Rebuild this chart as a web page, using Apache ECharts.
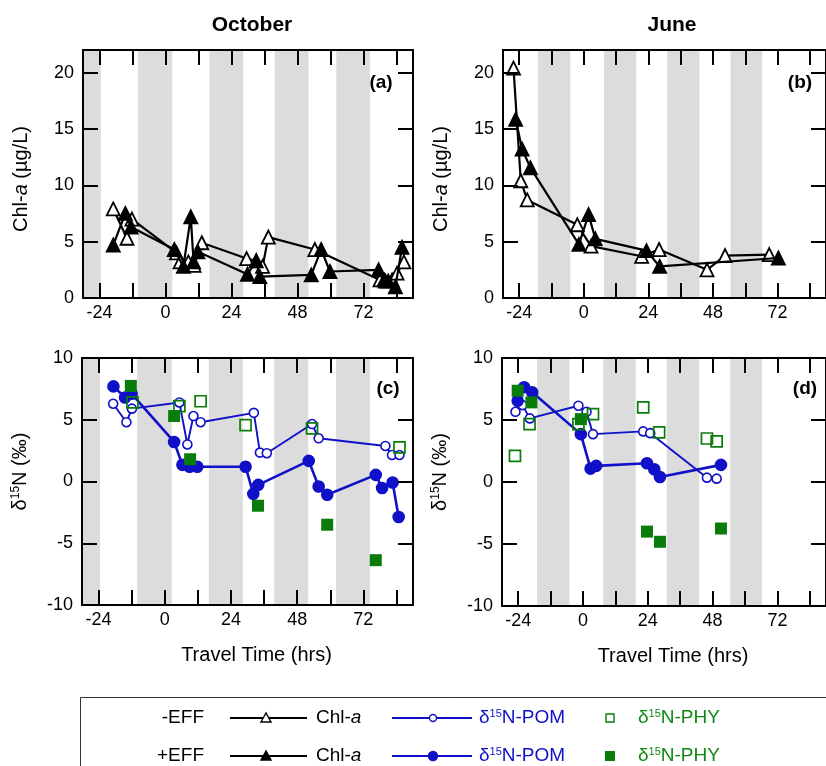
<!DOCTYPE html>
<html>
<head>
<meta charset="utf-8">
<script src="https://cdn.jsdelivr.net/npm/echarts@6/dist/echarts.min.js"></script>
<style>html,body{margin:0;padding:0;background:#fff}#c{width:826px;height:766px}</style>
</head>
<body>
<div id="c"></div>
<script>
// ---- tick / label values ----
const xTicks = [-24, -12, 0, 12, 24, 36, 48, 60, 72, 84];
const xLabels = [-24, 0, 24, 48, 72];
const chlTicks = [0, 5, 10, 15, 20];
const d15Ticks = [-10, -5, 0, 5, 10];

// ---- night (shaded) periods, hours ----
const octNight = [[-30, -23.5], [-10, 2.5], [16, 28.3], [39.7, 52], [62.1, 74.4]];
const junNight = [[-17, -5], [7.5, 19.5], [31, 43], [54.5, 66.3]];

// ---- October Chl-a (µg/L) ----
const octChlMinus = [[-19, 7.9], [-14, 5.3], [-12.2, 7.0], [4, 4.0], [5.3, 3.2], [8.3, 3.2], [10.4, 2.9], [13.2, 4.9], [29.5, 3.5], [33, 3.3], [35.3, 2.8], [37.4, 5.4], [54.3, 4.3], [78, 1.6], [80, 1.5], [82.4, 1.6], [84.2, 2.2], [86.7, 3.2]];
const octChlPlus = [[-19, 4.7], [-14.6, 7.5], [-12.5, 6.3], [3.2, 4.3], [6.5, 2.8], [9.2, 7.2], [10.2, 3.2], [11.8, 4.1], [29.8, 2.1], [33, 3.3], [34.3, 1.9], [53, 2.05], [56.6, 4.3], [59.8, 2.35], [77.5, 2.5], [79.5, 1.6], [81, 1.5], [83.6, 1.0], [86, 4.5]];

// ---- June Chl-a (µg/L) ----
const junChlMinus = [[-26.1, 20.4], [-23.4, 10.4], [-21, 8.7], [-2.4, 6.5], [2.7, 4.6], [21.5, 3.7], [28, 4.3], [45.8, 2.5], [52.5, 3.76], [68.9, 3.85]];
const junChlPlus = [[-25.3, 15.85], [-22.9, 13.2], [-19.8, 11.55], [-1.8, 4.75], [1.8, 7.4], [4.3, 5.25], [23.3, 4.2], [28.2, 2.8], [72.3, 3.55]];

// ---- October δ15N (‰) ----
const octPomMinus = [[-18.7, 6.3], [-13.9, 4.8], [-11.9, 5.9], [5.3, 6.4], [8.2, 3.0], [10.4, 5.3], [13, 4.8], [32.3, 5.56], [34.5, 2.34], [37, 2.29], [53.4, 4.65], [55.8, 3.5], [80, 2.88], [82.4, 2.15], [85.1, 2.15]];
const octPomPlus = [[-18.6, 7.7], [-14.4, 6.8], [-12, 7.1], [3.4, 3.2], [6.4, 1.35], [9, 1.2], [11.8, 1.2], [29.3, 1.2], [32.1, -1.0], [33.9, -0.27], [52.2, 1.67], [55.8, -0.4], [58.9, -1.07], [76.5, 0.54], [78.8, -0.53], [82.6, -0.08], [84.8, -2.87]];
const octPhyMinus = [[-11.7, 6.4], [5.3, 6.1], [13, 6.5], [29.3, 4.57], [53.4, 4.3], [85.1, 2.77]];
const octPhyPlus = [[-12.3, 7.74], [3.4, 5.3], [9.2, 1.8], [33.8, -1.96], [58.9, -3.5], [76.5, -6.37]];

// ---- June δ15N (‰) ----
const junPomMinus = [[-25, 5.66], [-22.4, 6.2], [-19.7, 5.13], [-1.7, 6.15], [1.3, 5.66], [3.7, 3.86], [22.3, 4.08], [24.9, 3.94], [45.9, 0.35], [49.5, 0.27]];
const junPomPlus = [[-24.2, 6.55], [-21.8, 7.64], [-18.8, 7.23], [-0.8, 3.86], [2.8, 1.08], [4.9, 1.3], [23.7, 1.51], [26.4, 1.03], [28.5, 0.4], [51.1, 1.38]];
const junPhyMinus = [[-25.2, 2.1], [-19.8, 4.67], [-1.7, 4.67], [3.7, 5.48], [22.3, 6.02], [28.2, 4.0], [45.9, 3.51], [49.5, 3.27]];
const junPhyPlus = [[-24.2, 7.36], [-19.1, 6.42], [-0.8, 5.07], [23.7, -4.0], [28.5, -4.82], [51.1, -3.75]];

// ---- styling ----
const FONT = '"Liberation Sans", Arial, Helvetica, sans-serif';
const BLUE = '#1010c8';
const GREEN = '#0a7c0a';
const GREEN_TXT = '#118811';
const BAND = '#dcdcdc';

const grids = [
  {left: 83, top: 50, width: 330, height: 248},
  {left: 503, top: 50, width: 330, height: 248},
  {left: 82, top: 358, width: 331, height: 247},
  {left: 502, top: 358, width: 331, height: 248}
];

const chlName = '{n|Chl-}{i|a}{n| (µg/L)}';
const d15Name = '{n|δ}{s|15}{n|N (‰)}';
const nameRich = {
  n: {fontSize: 20, fontFamily: FONT, color: '#000'},
  i: {fontSize: 20, fontFamily: FONT, fontStyle: 'italic', color: '#000'},
  s: {fontSize: 12, fontFamily: FONT, color: '#000', verticalAlign: 'top'}
};

const tickCommon = {inside: true, length: 15, lineStyle: {color: '#000', width: 2}};
const lineCommon = {show: true, onZero: false, lineStyle: {color: '#000', width: 2}};

const xAxes = [], yAxes = [];
grids.forEach((g, i) => {
  const bottomPanel = i >= 2;
  xAxes.push({
    gridIndex: i, type: 'value', min: -30, max: 90, position: 'bottom', z: 5,
    axisLine: lineCommon,
    axisTick: Object.assign({customValues: xTicks}, tickCommon),
    axisLabel: {customValues: xLabels, fontSize: 18, fontFamily: FONT, color: '#000', margin: 6},
    splitLine: {show: false},
    name: bottomPanel ? 'Travel Time (hrs)' : '',
    nameLocation: 'middle', nameGap: 40,
    nameTextStyle: {fontSize: 20, fontFamily: FONT, color: '#000', padding: [0, 0, 0, 18]}
  });
  xAxes.push({
    gridIndex: i, type: 'value', min: -30, max: 90, position: 'top', z: 5,
    axisLine: lineCommon,
    axisTick: Object.assign({customValues: xTicks}, tickCommon),
    axisLabel: {show: false},
    splitLine: {show: false}
  });
  const isChl = i < 2;
  const ticks = isChl ? chlTicks : d15Ticks;
  yAxes.push({
    gridIndex: i, type: 'value', min: isChl ? 0 : -10, max: isChl ? 22 : 10, position: 'left', z: 5,
    axisLine: lineCommon,
    axisTick: Object.assign({customValues: ticks}, tickCommon),
    axisLabel: {customValues: ticks, fontSize: 18, fontFamily: FONT, color: '#000', margin: 9},
    splitLine: {show: false},
    name: isChl ? chlName : d15Name,
    nameLocation: 'middle', nameGap: 52,
    nameTextStyle: {rich: nameRich, padding: isChl ? [0, 10, 0, 0] : [0, 0, 0, 20]}
  });
  yAxes.push({
    gridIndex: i, type: 'value', min: isChl ? 0 : -10, max: isChl ? 22 : 10, position: 'right', z: 5,
    axisLine: lineCommon,
    axisTick: Object.assign({customValues: ticks}, tickCommon),
    axisLabel: {show: false},
    splitLine: {show: false}
  });
});

function bands(list) {
  return {
    silent: true,
    itemStyle: {color: BAND},
    data: list.map(b => [{xAxis: b[0]}, {xAxis: b[1]}])
  };
}

function chlSeries(gi, data, filled, night) {
  const s = {
    type: 'line', xAxisIndex: gi * 2, yAxisIndex: gi * 2, data: data,
    symbol: 'triangle', symbolSize: 13,
    itemStyle: {color: filled ? '#000' : '#fff', borderColor: '#000', borderWidth: 1.8},
    lineStyle: {color: '#000', width: 2.2},
    z: filled ? 3 : 2
  };
  if (night) s.markArea = bands(night);
  return s;
}
function pomSeries(gi, data, filled, night) {
  const s = {
    type: 'line', xAxisIndex: gi * 2, yAxisIndex: gi * 2, data: data,
    symbol: 'circle', symbolSize: filled ? 11 : 9,
    itemStyle: {color: filled ? BLUE : '#fff', borderColor: BLUE, borderWidth: 1.6},
    lineStyle: {color: BLUE, width: filled ? 2.6 : 1.9},
    z: filled ? 3 : 2
  };
  if (night) s.markArea = bands(night);
  return s;
}
function phySeries(gi, data, filled) {
  return {
    type: 'scatter', xAxisIndex: gi * 2, yAxisIndex: gi * 2, data: data,
    symbol: 'rect', symbolSize: filled ? 12 : 11,
    itemStyle: {opacity: 1, color: filled ? GREEN : 'rgba(255,255,255,0)', borderColor: GREEN, borderWidth: filled ? 0 : 1.7},
    z: 4
  };
}

const series = [
  chlSeries(0, octChlMinus, false, octNight),
  chlSeries(0, octChlPlus, true),
  chlSeries(1, junChlMinus, false, junNight),
  chlSeries(1, junChlPlus, true),
  pomSeries(2, octPomMinus, false, octNight),
  pomSeries(2, octPomPlus, true),
  phySeries(2, octPhyMinus, false),
  phySeries(2, octPhyPlus, true),
  pomSeries(3, junPomMinus, false, junNight),
  pomSeries(3, junPomPlus, true),
  phySeries(3, junPhyMinus, false),
  phySeries(3, junPhyPlus, true)
];

// ---- titles, panel letters, legend (graphic) ----
const graphics = [];
function txt(x, y, text, opt) {
  graphics.push({type: 'text', x: x, y: y, z: 20, style: Object.assign({
    text: text, fill: '#000', fontSize: 20, fontFamily: FONT,
    align: 'center', verticalAlign: 'middle'}, opt || {})});
}
txt(252, 25, 'October', {fontWeight: 'bold', fontSize: 21});
txt(672, 25, 'June', {fontWeight: 'bold', fontSize: 21});
txt(381, 83, '(a)', {fontWeight: 'bold', fontSize: 19});
txt(800, 83, '(b)', {fontWeight: 'bold', fontSize: 19});
txt(388, 389, '(c)', {fontWeight: 'bold', fontSize: 19});
txt(805, 389, '(d)', {fontWeight: 'bold', fontSize: 19});

graphics.push({type: 'rect', z: 20, shape: {x: 80.5, y: 697.5, width: 800, height: 100},
  style: {fill: 'none', stroke: '#333', lineWidth: 1}});

function supRich(color) {
  return {
    n: {fontSize: 19, fontFamily: FONT, fill: color},
    i: {fontSize: 19, fontFamily: FONT, fontStyle: 'italic', fill: color},
    s: {fontSize: 11, fontFamily: FONT, fill: color, verticalAlign: 'top'}
  };
}
[[718, false, '-EFF'], [756, true, '+EFF']].forEach(([y, filled, lab]) => {
  txt(204, y, lab, {align: 'right', fontSize: 19});
  graphics.push({type: 'line', z: 20, shape: {x1: 230, y1: y, x2: 307, y2: y}, style: {stroke: '#000', lineWidth: 2}});
  graphics.push({type: 'polygon', z: 21, shape: {points: [[266, y - 5], [261, y + 4], [271, y + 4]]},
    style: {fill: filled ? '#000' : '#fff', stroke: '#000', lineWidth: 1.4}});
  txt(316, y, '{n|Chl-}{i|a}', {align: 'left', rich: supRich('#000')});
  graphics.push({type: 'line', z: 20, shape: {x1: 392, y1: y, x2: 472, y2: y}, style: {stroke: BLUE, lineWidth: 2}});
  graphics.push({type: 'circle', z: 21, shape: {cx: 433, cy: y, r: filled ? 4.5 : 3.5},
    style: {fill: filled ? BLUE : '#fff', stroke: BLUE, lineWidth: 1.4}});
  txt(479, y, '{n|δ}{s|15}{n|N-POM}', {align: 'left', fill: BLUE, rich: supRich(BLUE)});
  graphics.push({type: 'rect', z: 21, shape: filled ? {x: 605, y: y - 5, width: 10, height: 10} : {x: 606, y: y - 4, width: 8, height: 8},
    style: {fill: filled ? GREEN : 'none', stroke: filled ? null : GREEN, lineWidth: 1.4}});
  txt(638, y, '{n|δ}{s|15}{n|N-PHY}', {align: 'left', fill: GREEN_TXT, rich: supRich(GREEN_TXT)});
});

const chart = echarts.init(document.getElementById('c'), null, {renderer: 'canvas'});
chart.setOption({
  animation: false,
  backgroundColor: '#fff',
  grid: grids,
  xAxis: xAxes,
  yAxis: yAxes,
  series: series,
  graphic: graphics
});
</script>
</body>
</html>
